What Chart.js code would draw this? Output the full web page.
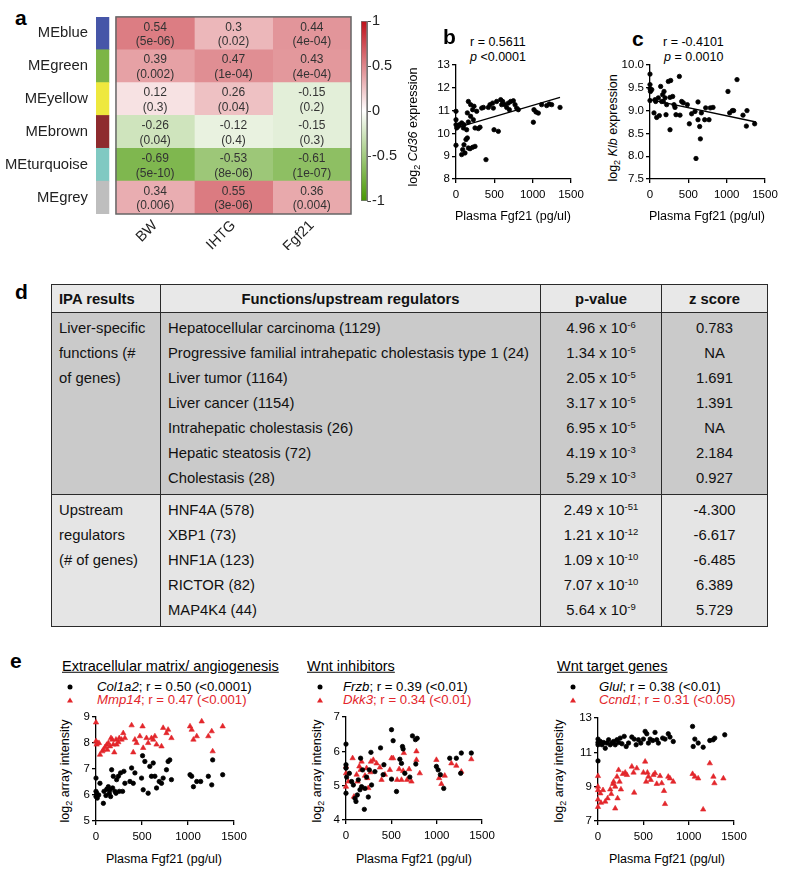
<!DOCTYPE html>
<html>
<head>
<meta charset="utf-8">
<script src="https://cdn.jsdelivr.net/npm/chart.js@4.4.0/dist/chart.umd.min.js"></script>
<style>
  body { margin: 0; background: #fff; }
  #page { position: relative; width: 787px; height: 873px; overflow: hidden; background: #fff;
          font-family: "Liberation Sans", Arial, sans-serif; color: #000; }
  #page canvas { position: absolute; }
  .t { position: absolute; white-space: nowrap; line-height: 1; }
  .c { transform: translate(-50%, -50%); }
  .l { transform: translateY(-50%); }
  .rot { transform: translate(-50%, -50%) rotate(-90deg); }
  .pl { font-weight: bold; font-size: 21px; }
  .s12 { font-size: 12.5px; }
  .s13 { font-size: 13.2px; }
  .s14 { font-size: 14.5px; }
  sub { font-size: 9px; vertical-align: -3px; line-height: 0; }
  .red { color: #e3262b; }
  .dot { position: absolute; width: 5px; height: 5px; border-radius: 50%; background: #000; transform: translate(-50%, -50%); }
  .tri { position: absolute; width: 0; height: 0; border-left: 3px solid transparent; border-right: 3px solid transparent;
         border-bottom: 5px solid #e3262b; transform: translate(-50%, -50%); }

  #ipa { position: absolute; left: 51px; top: 284px; width: 716px; border-collapse: collapse; table-layout: fixed;
         font: 14.8px "Liberation Sans", Arial, sans-serif; color: #111; }
  #ipa th, #ipa td { border: 1.5px solid #2a2a2a; padding: 3px 7px; vertical-align: top; }
  #ipa th { background: #e8e8e8; height: 22px; line-height: 22px; padding: 3px 7px 2px; text-align: center; }
  #ipa th.lft { text-align: left; }
  #ipa .ln { height: 25px; line-height: 25px; white-space: nowrap; }
  #ipa td.ctr { text-align: center; }
  #ipa sup { font-size: 9.5px; vertical-align: 5px; line-height: 0; }
</style>
</head>
<body>
<div id="page">
  <!-- panel a -->
  <div class="t l pl" style="left:15px;top:17px">a</div>
  <canvas id="heat" width="380" height="250" style="left:0;top:0"></canvas>
  <canvas id="cbar" width="75" height="210" style="left:340px;top:8px"></canvas>

  <!-- panel b -->
  <div class="t l pl" style="left:443px;top:36px">b</div>
  <div class="t l s12" style="left:470px;top:42px">r = 0.5611</div>
  <div class="t l s12" style="left:470px;top:57px"><i>p</i> &lt;0.0001</div>
  <div class="t rot s12" style="left:413px;top:127px">log<sub>2</sub> <i>Cd36</i> expression</div>
  <div class="t c s12" style="left:513px;top:216px">Plasma Fgf21 (pg/ul)</div>

  <!-- panel c -->
  <div class="t l pl" style="left:632px;top:38px">c</div>
  <div class="t l s12" style="left:663px;top:42px">r = -0.4101</div>
  <div class="t l s12" style="left:664px;top:57px"><i>p</i> = 0.0010</div>
  <div class="t rot s12" style="left:613px;top:128px">log<sub>2</sub> <i>Klb</i> expression</div>
  <div class="t c s12" style="left:707px;top:216px">Plasma Fgf21 (pg/ul)</div>

  <!-- panel d -->
  <div class="t l pl" style="left:15px;top:291px">d</div>
  <table id="ipa"></table>

  <!-- panel e -->
  <div class="t l pl" style="left:10px;top:660px">e</div>

  <div class="t l s14" style="left:62px;top:666px"><u>Extracellular matrix/ angiogenesis</u></div>
  <div class="dot" style="left:70px;top:687px"></div>
  <div class="t l s13" style="left:97px;top:687px"><i>Col1a2</i>; r = 0.50 (&lt;0.0001)</div>
  <div class="tri" style="left:70px;top:700px"></div>
  <div class="t l s13 red" style="left:97px;top:700px"><i>Mmp14</i>; r = 0.47 (&lt;0.001)</div>
  <div class="t rot s12" style="left:65px;top:771px">log<sub>2</sub> array intensity</div>
  <div class="t c s12" style="left:164px;top:859px">Plasma Fgf21 (pg/ul)</div>

  <div class="t l s14" style="left:307px;top:666px"><u>Wnt inhibitors</u></div>
  <div class="dot" style="left:320px;top:687px"></div>
  <div class="t l s13" style="left:343px;top:687px"><i>Frzb</i>; r = 0.39 (&lt;0.01)</div>
  <div class="tri" style="left:320px;top:700px"></div>
  <div class="t l s13 red" style="left:343px;top:700px"><i>Dkk3</i>; r = 0.34 (&lt;0.01)</div>
  <div class="t rot s12" style="left:317px;top:771px">log<sub>2</sub> array intensity</div>
  <div class="t c s12" style="left:414px;top:859px">Plasma Fgf21 (pg/ul)</div>

  <div class="t l s14" style="left:557px;top:666px"><u>Wnt target genes</u></div>
  <div class="dot" style="left:573px;top:687px"></div>
  <div class="t l s13" style="left:599px;top:687px"><i>Glul</i>; r = 0.38 (&lt;0.01)</div>
  <div class="tri" style="left:573px;top:700px"></div>
  <div class="t l s13 red" style="left:599px;top:700px"><i>Ccnd1</i>; r = 0.31 (&lt;0.05)</div>
  <div class="t rot s12" style="left:559px;top:771px">log<sub>2</sub> array intensity</div>
  <div class="t c s12" style="left:667px;top:859px">Plasma Fgf21 (pg/ul)</div>
</div>

<script>
// ---- panel a: module-trait correlations
const modules = ['MEblue', 'MEgreen', 'MEyellow', 'MEbrown', 'MEturquoise', 'MEgrey'];
const moduleColours = ['#4656a8', '#7db546', '#eee83e', '#8e2b2e', '#80c9c2', '#bebebe'];
const traits = ['BW', 'IHTG', 'Fgf21'];
const corr = [
  [0.54, 0.3, 0.44],
  [0.39, 0.47, 0.43],
  [0.12, 0.26, -0.15],
  [-0.26, -0.12, -0.15],
  [-0.69, -0.53, -0.61],
  [0.34, 0.55, 0.36]
];
const pvals = [
  ['5e-06', '0.02', '4e-04'],
  ['0.002', '1e-04', '4e-04'],
  ['0.3', '0.04', '0.2'],
  ['0.04', '0.4', '0.3'],
  ['5e-10', '8e-06', '1e-07'],
  ['0.006', '3e-06', '0.004']
];
const colourTicks = [-1, -0.5, 0, 0.5, 1];

// ---- panel b: Cd36 vs plasma Fgf21
const bFgf21 = [0, 0, 0, 9, 30, 0, 43, 74, 96, 104, 139, 161, 130, 148, 104, 87, 74, 117, 161, 183, 217, 248,
  161, 148, 191, 217, 235, 191, 226, 270, 248, 291, 313, 335, 357, 391, 422, 443, 487, 496, 478, 530, 552, 583,
  596, 609, 639, 661, 683, 696, 713, 748, 770, 791, 813, 1009, 1017, 1043, 1074, 1117, 1183, 1217, 1248, 1357];
const bCd36 = [10.97, 10.6, 10.38, 10.24, 10.31, 9.48, 10.38, 10.46, 10.24, 10.38, 10.16, 10.5, 9.73, 9.8, 9.5,
  9.29, 9.07, 9.14, 9.36, 9.33, 9.39, 9.43, 11.4, 10.9, 11.26, 11.04, 11.19, 10.75, 10.6, 10.97, 10.24, 10.21,
  10.27, 11.11, 11.14, 8.85, 11.14, 11.26, 11.11, 10.16, 11.33, 11.4, 10.09, 11.48, 11.26, 11.4, 11.26, 11.14,
  11.33, 11.04, 11.4, 11.43, 11.26, 11.11, 11.04, 10.49, 11.04, 10.94, 10.89, 11.26, 11.22, 11.29, 11.26, 11.14];
const bFitX = [0, 1357];
const bFitY = [10.24, 11.58];

// ---- panel c: Klb vs plasma Fgf21
const cFgf21 = [0, 0, 0, 6, 23, 0, 52, 87, 122, 65, 109, 139, 152, 165, 183, 196, 217, 209, 239, 270, 261, 296,
  313, 339, 383, 391, 413, 435, 487, 513, 543, 587, 600, 626, 626, 648, 657, 670, 713, 726, 770, 787, 822, 1017,
  1039, 1074, 1091, 1135, 1213, 1257, 1265, 1365, 74, 174, 261, 326];
const cKlb = [9.8, 9.57, 9.48, 9.42, 9.46, 9.22, 8.95, 8.85, 8.89, 9.24, 9.28, 9.53, 9.2, 9.35, 9.42, 9.28, 9.13,
  8.91, 9.64, 9.66, 8.58, 9.31, 9.13, 8.91, 9.75, 8.9, 9.2, 9.17, 9.13, 8.71, 8.93, 8.98, 7.95, 9.19, 8.8, 8.65,
  8.38, 8.95, 8.8, 9.06, 8.8, 9.06, 9.07, 9.42, 8.95, 9.0, 9.0, 9.68, 8.9, 8.66, 9.0, 8.71, 9.2, 9.2, 9.29, 9.07];
const cFitX = [0, 1383];
const cFitY = [9.24, 8.75];

// ---- panel d: IPA results
const groupLines = [['Liver-specific', 'functions (#', 'of genes)'], ['Upstream', 'regulators', '(# of genes)']];
const liverFunctions = ['Hepatocellular carcinoma (1129)', 'Progressive familial intrahepatic cholestasis type 1 (24)',
  'Liver tumor (1164)', 'Liver cancer (1154)', 'Intrahepatic cholestasis (26)', 'Hepatic steatosis (72)', 'Cholestasis (28)'];
const liverPMant = ['4.96', '1.34', '2.05', '3.17', '6.95', '4.19', '5.29'];
const liverPExp = [-6, -5, -5, -5, -5, -3, -3];
const liverZ = ['0.783', 'NA', '1.691', '1.391', 'NA', '2.184', '0.927'];
const upstreamRegs = ['HNF4A (578)', 'XBP1 (73)', 'HNF1A (123)', 'RICTOR (82)', 'MAP4K4 (44)'];
const upstreamPMant = ['2.49', '1.21', '1.09', '7.07', '5.64'];
const upstreamPExp = [-51, -12, -10, -10, -9];
const upstreamZ = ['-4.300', '-6.617', '-6.485', '6.389', '5.729'];

// ---- panel e: array intensity vs plasma Fgf21
const colX = [0, 0, 0, 7, 14, 29, 43, 80, 87, 108, 116, 134, 145, 152, 159, 170, 181, 188, 206, 217, 224, 243, 253,
  267, 289, 303, 314, 369, 387, 405, 423, 495, 506, 513, 531, 567, 585, 603, 622, 640, 658, 687, 712, 730, 766, 784,
  802, 820, 1022, 1040, 1059, 1095, 1138, 1221, 1258, 1268, 1377];
const colY = [6.65, 6.14, 5.94, 6.07, 5.88, 6.0, 6.45, 5.68, 6.14, 5.98, 6.22, 6.32, 6.07, 6.2, 5.94, 6.97, 6.27,
  6.72, 6.14, 6.07, 6.59, 6.72, 6.14, 6.85, 6.14, 6.91, 6.45, 6.52, 7.04, 6.45, 6.85, 6.65, 7.51, 6.2, 7.29, 6.07,
  7.1, 6.72, 7.23, 6.72, 6.27, 6.52, 6.45, 6.65, 6.97, 7.29, 7.35, 6.59, 6.78, 6.72, 6.32, 6.52, 6.52, 6.72, 6.39,
  7.35, 6.78];
const mmpX = [0, 0, 7, 14, 32, 43, 69, 80, 98, 116, 123, 134, 152, 163, 177, 188, 199, 217, 224, 243, 253, 278, 296,
  314, 387, 405, 423, 441, 477, 506, 513, 549, 567, 603, 622, 640, 658, 712, 730, 766, 784, 820, 1022, 1040, 1059,
  1095, 1149, 1221, 1258, 1268, 1377];
const mmpY = [8.79, 8.07, 7.94, 8.0, 8.0, 7.55, 7.68, 7.74, 7.84, 7.93, 7.74, 8.0, 7.87, 8.19, 8.13, 7.94, 7.64,
  8.13, 7.94, 8.03, 8.19, 8.13, 8.38, 8.19, 8.68, 7.64, 8.13, 8.0, 8.26, 8.64, 7.81, 8.19, 8.0, 8.19, 8.13, 8.26,
  7.94, 7.87, 8.58, 8.38, 8.51, 8.19, 8.64, 8.51, 8.13, 8.26, 8.83, 8.26, 8.45, 7.68, 8.64];
const frzbX = [0, 0, 0, 0, 7, 37, 62, 81, 99, 110, 125, 136, 154, 161, 172, 183, 202, 209, 227, 246, 257, 275, 282,
  319, 381, 410, 418, 502, 520, 502, 557, 594, 612, 623, 630, 649, 704, 733, 766, 785, 770, 997, 1016, 1041, 1078,
  1144, 1217, 1265, 1272, 1382];
const frzbY = [6.21, 5.61, 5.51, 4.78, 5.25, 5.36, 5.12, 5.02, 4.63, 4.54, 4.73, 5.17, 4.88, 5.8, 4.97, 5.46, 4.31,
  4.92, 5.25, 4.67, 5.46, 5.97, 5.02, 5.41, 6.1, 5.32, 5.61, 6.63, 6.31, 5.19, 4.83, 5.77, 5.65, 6.14, 6.07, 5.36,
  5.25, 6.45, 6.34, 6.38, 5.63, 5.56, 5.46, 5.32, 4.92, 5.8, 5.8, 5.36, 5.95, 5.95];
const dkkX = [0, 0, 0, 26, 73, 88, 117, 128, 147, 161, 172, 172, 209, 227, 235, 246, 271, 275, 301, 337, 374, 392,
  429, 484, 502, 520, 564, 586, 612, 630, 638, 674, 696, 722, 777, 777, 814, 997, 1027, 1052, 1089, 1162, 1217,
  1272, 1382];
const dkkY = [5.56, 5.36, 4.97, 5.12, 5.8, 4.68, 5.32, 5.12, 5.56, 5.46, 5.7, 4.93, 5.29, 5.51, 5.22, 4.93, 5.39,
  5.7, 5.75, 5.65, 5.53, 5.17, 5.32, 5.46, 5.8, 5.8, 5.17, 5.48, 5.17, 5.43, 5.95, 5.17, 5.48, 5.12, 6.0, 5.75,
  5.36, 5.75, 5.22, 5.05, 5.29, 5.65, 5.58, 5.41, 5.77];
const glulX = [0, 0, 0, 0, 26, 44, 62, 80, 99, 117, 135, 154, 172, 190, 209, 227, 245, 264, 289, 311, 337, 373, 399,
  421, 446, 472, 501, 520, 538, 556, 575, 604, 629, 648, 666, 713, 739, 775, 794, 830, 1043, 1050, 1068, 1105,
  1160, 1233, 1270, 1288, 1398];
const glulY = [11.77, 11.57, 11.44, 10.5, 11.63, 11.44, 11.57, 11.24, 11.54, 11.73, 11.44, 11.54, 11.63, 11.44,
  11.73, 11.57, 11.83, 11.5, 11.93, 11.34, 11.54, 11.89, 11.77, 11.44, 11.73, 11.54, 11.77, 12.22, 12.08, 11.54,
  11.77, 11.69, 12.16, 11.73, 11.54, 11.83, 11.77, 12.08, 11.89, 11.63, 12.51, 11.34, 11.77, 11.54, 11.3, 11.69,
  11.73, 11.83, 12.02];
const ccndX = [0, 0, 0, 0, 0, 26, 33, 55, 80, 106, 135, 146, 165, 172, 190, 190, 209, 216, 227, 238, 253, 275, 300,
  319, 373, 392, 399, 428, 501, 520, 531, 545, 556, 582, 611, 629, 648, 684, 703, 728, 739, 775, 794, 830, 1043,
  1068, 1105, 1160, 1233, 1273, 1284, 1383];
const ccndY = [9.62, 9.0, 8.8, 8.25, 7.82, 8.61, 8.06, 8.8, 8.13, 8.32, 8.84, 8.57, 9.16, 9.29, 9.0, 7.73, 9.58,
  8.32, 9.97, 9.29, 8.84, 9.74, 9.82, 9.68, 10.17, 9.82, 8.65, 10.07, 9.82, 10.46, 9.29, 9.82, 9.58, 9.39, 9.68,
  9.78, 9.16, 9.62, 9.2, 8.75, 7.99, 9.58, 9.48, 9.29, 9.74, 9.58, 9.48, 7.67, 10.36, 9.58, 9.2, 9.48];

const fontFamily = '"Liberation Sans", Arial, sans-serif';
Chart.defaults.font.family = fontFamily;
Chart.defaults.color = '#000';
const page = document.getElementById('page');
const RED = '#e3262b';

function corrColour(v) {
  const end = v >= 0 ? [190, 15, 25] : [70, 150, 0];
  const t = Math.abs(v);
  const c = end.map(e => Math.round(255 + (e - 255) * t));
  return `rgb(${c.join(',')})`;
}

// cell labels + frame for the heatmap
const cellText = {
  id: 'cellText',
  afterDatasetsDraw(chart) {
    const { ctx, chartArea, scales: { x, y } } = chart;
    ctx.save();
    ctx.font = `12px ${fontFamily}`;
    ctx.fillStyle = '#333';
    ctx.textAlign = 'center';
    ctx.textBaseline = 'middle';
    modules.forEach((m, i) => {
      const cy = y.getPixelForValue(i);
      traits.forEach((t, j) => {
        const cx = x.getPixelForValue(j + 0.5);
        ctx.fillText(String(corr[i][j]), cx, cy - 6);
        ctx.fillText('(' + pvals[i][j] + ')', cx, cy + 8.5);
      });
    });
    const l = x.getPixelForValue(0), r = x.getPixelForValue(traits.length);
    ctx.strokeStyle = '#666';
    ctx.lineWidth = 1.5;
    ctx.strokeRect(l, chartArea.top, r - l, chartArea.bottom - chartArea.top);
    ctx.restore();
  }
};

new Chart(document.getElementById('heat'), {
  type: 'bar',
  data: {
    labels: modules,
    datasets: [
      { data: modules.map(() => [-0.255, -0.09]), backgroundColor: moduleColours },
      ...traits.map((t, j) => ({
        label: t,
        data: modules.map(() => [j, j + 1]),
        backgroundColor: corr.map(row => corrColour(row[j]))
      }))
    ]
  },
  options: {
    indexAxis: 'y',
    responsive: false,
    animation: false,
    devicePixelRatio: 1,
    layout: { padding: { top: 8, right: 29, left: 0, bottom: 0 } },
    datasets: { bar: { grouped: false, categoryPercentage: 1, barPercentage: 1, borderWidth: 0 } },
    plugins: { legend: { display: false }, tooltip: { enabled: false } },
    scales: {
      x: {
        type: 'linear', min: -0.255, max: 3,
        afterBuildTicks: s => { s.ticks = traits.map((t, j) => ({ value: j + 0.5 })); },
        ticks: { callback: v => traits[Math.floor(v)], minRotation: 45, maxRotation: 45, autoSkip: false,
                 font: { size: 14.5 }, color: '#222', padding: 3 },
        grid: { display: false, drawTicks: false },
        border: { display: false },
        afterFit: s => { s.height = 36; }
      },
      y: {
        ticks: { font: { size: 14.8 }, color: '#222', padding: 8 },
        grid: { display: false, drawTicks: false },
        border: { display: false },
        afterFit: s => { s.width = 96; }
      }
    }
  },
  plugins: [cellText]
});

// colour key
new Chart(document.getElementById('cbar'), {
  type: 'bar',
  data: {
    labels: [''],
    datasets: [{
      data: [[colourTicks[0], colourTicks[colourTicks.length - 1]]],
      borderWidth: 1,
      borderColor: '#777',
      borderSkipped: false,
      backgroundColor: ctx => {
        const { chart } = ctx;
        const area = chart.chartArea;
        if (!area) return '#fff';
        const g = chart.ctx.createLinearGradient(0, area.bottom, 0, area.top);
        g.addColorStop(0, corrColour(-1));
        g.addColorStop(0.5, '#ffffff');
        g.addColorStop(1, corrColour(1));
        return g;
      }
    }]
  },
  options: {
    responsive: false,
    animation: false,
    devicePixelRatio: 1,
    layout: { padding: { left: 21, top: 13, bottom: 17, right: 0 } },
    datasets: { bar: { categoryPercentage: 1, barPercentage: 1 } },
    plugins: { legend: { display: false }, tooltip: { enabled: false } },
    scales: {
      x: { display: false },
      y: {
        position: 'right', min: -1, max: 1,
        afterBuildTicks: s => { s.ticks = colourTicks.map(v => ({ value: v })); },
        ticks: { callback: v => String(v), font: { size: 14.5 }, color: '#222', padding: 1 },
        grid: { drawOnChartArea: false, tickLength: 4, color: '#444' },
        border: { color: '#777' },
        afterFit: s => { s.width = 48; }
      }
    }
  }
});

// Prism-style scatter panels
function points(xs, ys) {
  return xs.map((x, i) => ({ x, y: ys[i] }));
}

function scatterPanel(area, yMin, yMax, yStep, datasets, decimals) {
  const padL = 45, padT = 10, padR = 22, padB = 26;
  const cv = document.createElement('canvas');
  cv.width = area.right - area.left + padL + padR;
  cv.height = area.bottom - area.top + padT + padB;
  cv.style.left = (area.left - padL) + 'px';
  cv.style.top = (area.top - padT) + 'px';
  page.appendChild(cv);
  const axisGrid = { drawOnChartArea: false, color: '#000', tickLength: 4, lineWidth: 1.3 };
  new Chart(cv, {
    type: 'scatter',
    data: { datasets },
    options: {
      responsive: false,
      animation: false,
      devicePixelRatio: 1,
      layout: { padding: { top: padT, right: padR, left: 0, bottom: 0 } },
      plugins: { legend: { display: false }, tooltip: { enabled: false } },
      scales: {
        x: {
          type: 'linear', min: 0, max: 1500,
          ticks: { stepSize: 500, font: { size: 11.5 }, color: '#000', padding: 5, maxRotation: 0,
                   callback: v => String(v) },
          grid: axisGrid,
          border: { color: '#000', width: 1.3 },
          afterFit: s => { s.height = padB; }
        },
        y: {
          type: 'linear', min: yMin, max: yMax,
          ticks: { stepSize: yStep, font: { size: 11.5 }, color: '#000', padding: 2,
                   callback: v => decimals ? v.toFixed(decimals) : String(v) },
          grid: axisGrid,
          border: { color: '#000', width: 1.3 },
          afterFit: s => { s.width = padL; }
        }
      }
    }
  });
}

const dotStyle = { pointRadius: 2.2, pointBorderWidth: 0.8, backgroundColor: '#000', borderColor: '#000', clip: false };
const triStyle = { pointStyle: 'triangle', pointRadius: 3.1, pointBorderWidth: 0.6, backgroundColor: RED, borderColor: RED, clip: false };
const fitStyle = { showLine: true, pointRadius: 0, borderColor: '#000', borderWidth: 1.3 };

scatterPanel({ left: 456, right: 571, top: 65, bottom: 179 }, 8, 13, 1, [
  { data: points(bFitX, bFitY), ...fitStyle },
  { data: points(bFgf21, bCd36), ...dotStyle }
]);

scatterPanel({ left: 650, right: 765, top: 65, bottom: 179 }, 7.5, 10, 0.5, [
  { data: points(cFitX, cFitY), ...fitStyle },
  { data: points(cFgf21, cKlb), ...dotStyle }
], 1);

scatterPanel({ left: 96, right: 234, top: 717, bottom: 821 }, 5, 9, 1, [
  { data: points(colX, colY), ...dotStyle },
  { data: points(mmpX, mmpY), ...triStyle }
]);

scatterPanel({ left: 346, right: 482, top: 717, bottom: 820 }, 4, 7, 1, [
  { data: points(frzbX, frzbY), ...dotStyle },
  { data: points(dkkX, dkkY), ...triStyle }
]);

scatterPanel({ left: 598, right: 734, top: 718, bottom: 821 }, 7, 13, 2, [
  { data: points(glulX, glulY), ...dotStyle },
  { data: points(ccndX, ccndY), ...triStyle }
]);

// IPA table
function pText(m, e) {
  return `${m} x 10<sup>${e}</sup>`;
}
function lines(arr) {
  return arr.map(s => `<div class="ln">${s}</div>`).join('');
}
function section(group, names, mant, exps, zs, bg) {
  return `<tr style="background:${bg}"><td>${lines(group)}</td><td>${lines(names)}</td>` +
    `<td class="ctr">${lines(mant.map((m, i) => pText(m, exps[i])))}</td><td class="ctr">${lines(zs)}</td></tr>`;
}
document.getElementById('ipa').innerHTML =
  '<colgroup><col style="width:109px"><col style="width:380px"><col style="width:121px"><col style="width:106px"></colgroup>' +
  '<tr><th class="lft">IPA results</th><th>Functions/upstream regulators</th><th>p-value</th><th>z score</th></tr>' +
  section(groupLines[0], liverFunctions, liverPMant, liverPExp, liverZ, '#cacaca') +
  section(groupLines[1], upstreamRegs, upstreamPMant, upstreamPExp, upstreamZ, '#e5e5e5');
</script>
</body>
</html>
